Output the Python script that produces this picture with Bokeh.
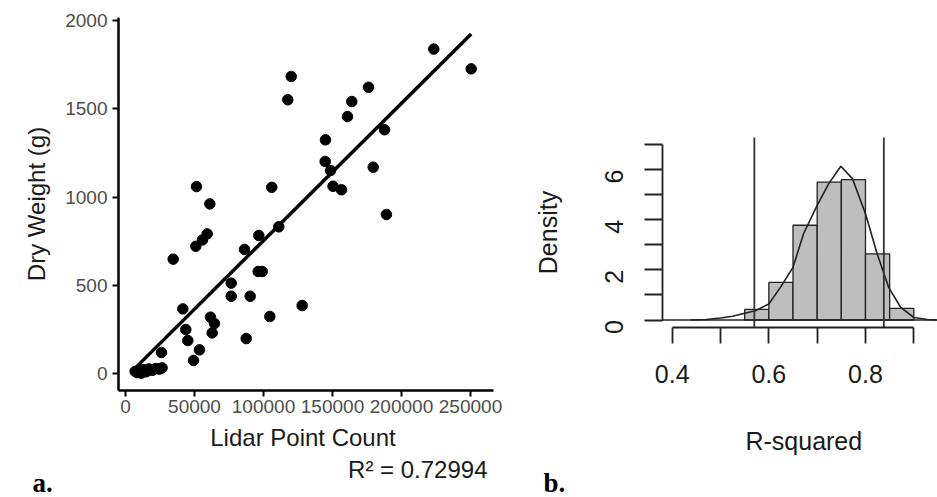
import math
import numpy as np
from bokeh.plotting import figure
from bokeh.layouts import row
from bokeh.models import FixedTicker, BasicTickFormatter, Label, Range1d
from bokeh.embed import file_html
from bokeh.resources import INLINE

# ---------------- Panel a: Lidar point count vs dry weight ----------------
lidar_count = [
    7000, 8500, 10000, 11500, 13000, 15000, 17000, 19500, 22000, 24500, 26500,
    26090, 34560, 41540, 43700, 45150, 49270, 50950, 51450, 53600, 55800,
    59200, 61100, 61600, 62800, 64500, 76590, 76590, 86230, 87460, 90350,
    96150, 96600, 99050, 104600, 106000, 111100, 117600, 120100, 128000,
    144700, 144900, 148600, 150400, 156500, 160900, 164000, 176100, 179500,
    187700, 189100, 223400, 250500,
]
dry_weight = [
    12, 5, 18, 2, 22, 10, 26, 18, 28, 25, 32,
    119, 648, 366, 249, 187, 74, 721, 1059, 134, 757,
    791, 961, 319, 230, 283, 512, 438, 703, 198, 438,
    578, 782, 578, 323, 1055, 831, 1551, 1683, 385,
    1201, 1324, 1150, 1061, 1041, 1456, 1541, 1622, 1169,
    1381, 901, 1838, 1726,
]
r2_text = "R\u00b2 = 0.72994"
x_ticks_a = [0, 50000, 100000, 150000, 200000, 250000]
y_ticks_a = [0, 500, 1000, 1500, 2000]

# ---------------- Panel b: bootstrap R-squared distribution ----------------
bin_left = [0.55, 0.60, 0.65, 0.70, 0.75, 0.80, 0.85]
bin_right = [0.60, 0.65, 0.70, 0.75, 0.80, 0.85, 0.90]
bin_density = [0.42, 1.50, 3.78, 5.50, 5.60, 2.64, 0.46]
kde_x = [0.438, 0.47, 0.50, 0.525, 0.548, 0.572, 0.60, 0.624, 0.65, 0.672,
         0.70, 0.724, 0.749, 0.773, 0.80, 0.824, 0.848, 0.873, 0.90, 0.928, 0.95]
kde_y = [0.0, 0.02, 0.08, 0.15, 0.26, 0.37, 0.64, 1.3, 2.1, 3.45,
         4.57, 5.44, 6.13, 5.64, 4.24, 2.65, 1.3, 0.5, 0.1, 0.02, 0.0]
ci_lines = [0.570, 0.838]
x_ticks_b = [0.4, 0.6, 0.8]
x_minor_b = [0.5, 0.7, 0.9]
y_ticks_b = [0, 2, 4, 6]
y_minor_b = [1, 3, 5, 7]

SANS = "Liberation Sans"
SERIF = "Liberation Serif"

# ---- layout helpers: page pixel -> data coordinate of each panel ----
def ax_(px):
    return (px - 125.0) * (50000.0 / 69.0)

def ay_(py):
    return (373.0 - py) * (2000.0 / 353.0)

def bx_(px):
    return 0.4 + (px - 671.7) / 483.2

def by_(py):
    return (319.5 - py) / 25.07

W_A, W_B, H = 528, 409, 497

# ---------------- Figure a ----------------
p1 = figure(width=W_A, height=H,
            x_range=Range1d(ax_(0), ax_(W_A)), y_range=Range1d(ay_(H), ay_(0)),
            output_backend="svg", toolbar_location=None,
            min_border_left=0, min_border_right=0,
            min_border_top=0, min_border_bottom=0)
p1.grid.visible = False
p1.outline_line_color = None
p1.background_fill_color = "white"
p1.border_fill_color = "white"

coef = np.polyfit(lidar_count, dry_weight, 1)
fit_x = [min(lidar_count), max(lidar_count)]
fit_y = [coef[0] * v + coef[1] for v in fit_x]

p1.scatter(lidar_count, dry_weight, size=10.5, color="black")
p1.line(fit_x, fit_y, line_width=3.5, color="black")

for ax in (p1.xaxis[0], p1.yaxis[0]):
    ax.axis_line_color = "black"
    ax.axis_line_width = 2.5
    ax.major_tick_line_color = "black"
    ax.major_tick_line_width = 2
    ax.major_tick_out = 6
    ax.major_tick_in = 0
    ax.minor_tick_line_color = None
    ax.major_label_text_font = SANS
    ax.major_label_text_font_size = "19px"
    ax.major_label_text_color = "#4d4d4d"

a_left, a_bottom = ax_(118), ay_(390)
p1.xaxis.ticker = FixedTicker(ticks=x_ticks_a)
p1.xaxis.formatter = BasicTickFormatter(use_scientific=False)
p1.xaxis.fixed_location = a_bottom
p1.xaxis.bounds = (a_left, ax_(493))
p1.xaxis.major_label_standoff = 3

p1.yaxis.ticker = FixedTicker(ticks=y_ticks_a)
p1.yaxis.formatter = BasicTickFormatter(use_scientific=False)
p1.yaxis.fixed_location = a_left
p1.yaxis.bounds = (a_bottom, ay_(17))
p1.yaxis.major_label_standoff = 5

p1.add_layout(Label(x=ax_(302.5), y=ay_(437), text="Lidar Point Count",
                    text_align="center", text_baseline="middle",
                    text_font=SANS, text_font_size="24px", text_color="#1a1a1a"))
p1.add_layout(Label(x=ax_(36), y=ay_(203.5), text="Dry Weight (g)", angle=math.pi / 2,
                    text_align="center", text_baseline="middle",
                    text_font=SANS, text_font_size="24px", text_color="#1a1a1a"))
p1.add_layout(Label(x=ax_(487), y=ay_(468.5), text=r2_text,
                    text_align="right", text_baseline="middle",
                    text_font=SANS, text_font_size="24px", text_color="#1a1a1a"))
p1.add_layout(Label(x=ax_(32), y=ay_(482.5), text="a.",
                    text_align="left", text_baseline="middle",
                    text_font=SERIF, text_font_style="bold",
                    text_font_size="27px", text_color="black"))

# ---------------- Figure b ----------------
p2 = figure(width=W_B, height=H,
            x_range=Range1d(bx_(W_A), bx_(W_A + W_B)), y_range=Range1d(by_(H), by_(0)),
            output_backend="svg", toolbar_location=None,
            min_border_left=0, min_border_right=0,
            min_border_top=0, min_border_bottom=0)
p2.grid.visible = False
p2.outline_line_color = None
p2.background_fill_color = "white"
p2.border_fill_color = "white"

# R plot region: limits extended by 4 %
b_xlim = (bx_(661.5), bx_(937))
b_ylim = (0 - 0.04 * 7, 7 + 0.04 * 7)

p2.quad(left=bin_left, right=bin_right, bottom=0, top=bin_density,
        fill_color="#bebebe", line_color="#222222", line_width=1.3)
p2.segment(x0=[b_xlim[0]], y0=[0], x1=[b_xlim[1]], y1=[0],
           line_color="#222222", line_width=1.6)
p2.line(kde_x, kde_y, line_color="#222222", line_width=1.6)
p2.segment(x0=ci_lines, y0=[b_ylim[0]] * len(ci_lines),
           x1=ci_lines, y1=[b_ylim[1]] * len(ci_lines),
           line_color="#333333", line_width=1.8)

for ax in (p2.xaxis[0], p2.yaxis[0]):
    ax.axis_line_color = "#222222"
    ax.axis_line_width = 1.8
    ax.major_tick_line_color = "#222222"
    ax.major_tick_line_width = 1.8
    ax.minor_tick_line_color = "#222222"
    ax.minor_tick_line_width = 1.8
    ax.major_tick_in = 0
    ax.minor_tick_in = 0
    ax.major_label_text_font = SANS
    ax.major_label_text_font_size = "25px"
    ax.major_label_text_color = "#1a1a1a"

p2.xaxis.ticker = FixedTicker(ticks=x_ticks_b, minor_ticks=x_minor_b)
p2.xaxis.fixed_location = b_ylim[0]
p2.xaxis.bounds = (0.4, 0.9)
p2.xaxis.major_tick_out = 16
p2.xaxis.minor_tick_out = 16
p2.xaxis.major_label_standoff = 22

p2.yaxis.ticker = FixedTicker(ticks=y_ticks_b, minor_ticks=y_minor_b)
p2.yaxis.fixed_location = b_xlim[0]
p2.yaxis.bounds = (0, 7)
p2.yaxis.major_tick_out = 18
p2.yaxis.minor_tick_out = 18
p2.yaxis.major_label_standoff = 30
p2.yaxis.major_label_orientation = math.pi / 2

p2.add_layout(Label(x=bx_(803.3), y=by_(440), text="R-squared",
                    text_align="center", text_baseline="middle",
                    text_font=SANS, text_font_size="25px", text_color="#1a1a1a"))
p2.add_layout(Label(x=bx_(547), y=by_(232), text="Density", angle=math.pi / 2,
                    text_align="center", text_baseline="middle",
                    text_font=SANS, text_font_size="25px", text_color="#1a1a1a"))
p2.add_layout(Label(x=bx_(543), y=by_(482.5), text="b.",
                    text_align="left", text_baseline="middle",
                    text_font=SERIF, text_font_style="bold",
                    text_font_size="27px", text_color="black"))

layout = row(p1, p2)
open("out.html", "w").write(file_html(layout, INLINE))
